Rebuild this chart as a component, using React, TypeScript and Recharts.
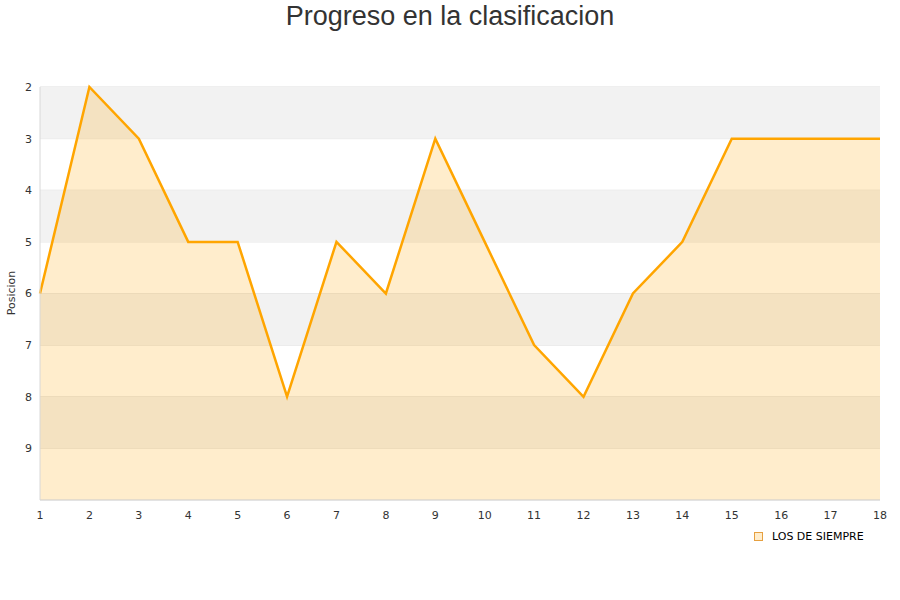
import { AreaChart, Area, XAxis, YAxis, CartesianGrid, ReferenceArea } from "recharts";

const jornadas = [1, 2, 3, 4, 5, 6, 7, 8, 9, 10, 11, 12, 13, 14, 15, 16, 17, 18];
const posiciones = [6, 2, 3, 5, 5, 8, 5, 6, 3, 5, 7, 8, 6, 5, 3, 3, 3, 3];
const yTicks = [2, 3, 4, 5, 6, 7, 8, 9];
const grayBands = [[2, 3], [4, 5], [6, 7], [8, 9]];
const teamName = "LOS DE SIEMPRE";

const data = jornadas.map((j, i) => ({ jornada: j, pos: posiciones[i] }));

const font = "DejaVu Sans, sans-serif";
const tickStyle = { fontSize: 11, fill: "#333", fontFamily: font };

export default function App() {
  return (
    <div style={{ position: "absolute", left: 0, top: 0, width: 900, height: 600, background: "#fff" }}>
      <div
        style={{
          position: "absolute",
          top: 0,
          left: 0,
          width: 900,
          textAlign: "center",
          fontFamily: "Liberation Sans, Arial, sans-serif",
          fontSize: 27,
          color: "#333",
          lineHeight: "32px",
        }}
      >
        Progreso en la clasificacion
      </div>
      <AreaChart width={900} height={600} data={data} margin={{ top: 87, right: 20, left: 0, bottom: 70 }}>
        {grayBands.map(([a, b]) => (
          <ReferenceArea key={a} y1={a} y2={b} fill="#f2f2f2" fillOpacity={1} stroke="none" ifOverflow="hidden" />
        ))}
        <CartesianGrid vertical={false} stroke="#dedede" />
        <XAxis
          dataKey="jornada"
          type="number"
          domain={[1, 18]}
          ticks={jornadas}
          tickLine={false}
          tickMargin={5}
          axisLine={{ stroke: "#d8d8d8" }}
          tick={tickStyle}
          height={30}
        />
        <YAxis
          reversed
          domain={[2, 10]}
          ticks={yTicks}
          type="number"
          tickLine={false}
          axisLine={{ stroke: "#d8d8d8" }}
          tick={tickStyle}
          width={40}
        />
        <YAxis yAxisId="r" orientation="right" width={0} tick={false} axisLine={{ stroke: "#dedede" }} />
        <Area
          type="linear"
          dataKey="pos"
          baseValue={10}
          stroke="#ffa500"
          strokeWidth={2.5}
          fill="#ffa500"
          fillOpacity={0.2}
          dot={false}
          isAnimationActive={false}
        />
      </AreaChart>
      <div
        style={{
          position: "absolute",
          left: 11,
          top: 293,
          transform: "translate(-50%, -50%) rotate(-90deg)",
          fontFamily: font,
          fontSize: 11,
          color: "#333",
          whiteSpace: "nowrap",
        }}
      >
        Posicion
      </div>
      <div
        style={{
          position: "absolute",
          left: 754,
          top: 530,
          display: "flex",
          alignItems: "center",
          fontFamily: font,
          fontSize: 11,
          color: "#000",
          whiteSpace: "nowrap",
        }}
      >
        <span
          style={{
            display: "inline-block",
            width: 7,
            height: 7,
            border: "1px solid #e6a040",
            background: "#ffedcc",
            marginRight: 9,
          }}
        />
        {teamName}
      </div>
    </div>
  );
}
